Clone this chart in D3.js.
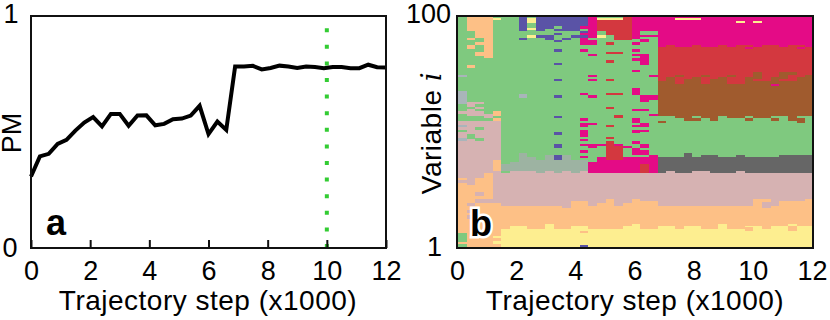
<!DOCTYPE html>
<html>
<head>
<meta charset="utf-8">
<script src="https://cdn.jsdelivr.net/npm/d3@7"></script>
<style>
  html, body { margin: 0; padding: 0; background: #fff; }
  text { font-family: "Liberation Sans", Arial, sans-serif; fill: #000; }
  .title { font-size: 28px; letter-spacing: 0.5px; }
  .num { font-size: 27px; }
</style>
</head>
<body>
<div id="chart"></div>
<script>
// panel a
var pmSteps = [0, 300, 600, 900, 1200, 1500, 1800, 2100, 2400, 2700, 3000, 3300, 3600, 3900, 4200, 4500, 4800, 5100, 5400, 5700, 6000, 6300, 6600, 6900, 7200, 7500, 7800, 8100, 8400, 8700, 9000, 9300, 9600, 9900, 10200, 10500, 10800, 11100, 11400, 11700, 12000];
var pmValues = [.308, .395, .406, .449, .466, .506, .541, .564, .524, .578, .578, .527, .571, .572, .529, .535, .555, .558, .571, .613, .491, .545, .509, .782, .782, .785, .770, .776, .786, .782, .776, .782, .780, .775, .780, .780, .775, .775, .790, .779, .778];
var markerStep = 10000;
var markerTop = 0.95;
var xTicks = [0, 2000, 4000, 6000, 8000, 10000, 12000];

// panel b, per trajectory column: the row where each stacked state ends (0 = state absent)
var columns = pmSteps;
var yellowTop = [0, 0, 0, 0, 0, 8, 9, 9, 8, 8, 10, 8, 8, 9, 9, 8, 8, 9, 8, 9, 10, 8, 8, 9, 9, 8, 9, 9, 8, 8, 10, 8, 8, 9, 9, 8, 9, 9, 10, 9, 9];
var orangeTop = [28, 27, 30, 32, 19, 18, 18, 18, 18, 18, 18, 18, 17, 20, 20, 18, 19, 21, 18, 19, 21, 20, 20, 18, 18, 18, 18, 18, 18, 18, 18, 18, 18, 18, 21, 21, 18, 20, 20, 20, 21];
var pinkTop = [55, 55, 55, 55, 55, 32, 33, 33, 33, 32, 33, 32, 33, 32, 33, 32, 32, 32, 32, 32, 32, 32, 32, 32, 33, 32, 32, 33, 33, 32, 32, 32, 33, 32, 32, 32, 32, 32, 32, 32, 32];
var sageTop = [0, 0, 0, 0, 0, 36, 37, 41, 39, 38, 40, 38, 40, 38, 38, 0, 0, 0, 0, 0, 0, 0, 0, 0, 0, 0, 0, 0, 0, 0, 0, 0, 0, 0, 0, 0, 0, 0, 0, 0, 0];
var hotLowTop = [0, 0, 0, 0, 0, 0, 0, 0, 0, 0, 0, 0, 0, 0, 0, 37, 39, 38, 38, 38, 39, 39, 40, 0, 0, 0, 0, 0, 0, 0, 0, 0, 0, 0, 0, 0, 0, 0, 0, 0, 0];
var darkTop = [0, 0, 0, 0, 0, 0, 0, 0, 0, 0, 0, 0, 0, 0, 0, 0, 0, 0, 0, 0, 0, 0, 0, 39, 39, 39, 41, 39, 40, 40, 39, 39, 40, 39, 39, 39, 39, 40, 40, 40, 40];
var greenTop = [100, 100, 100, 100, 100, 100, 100, 100, 100, 100, 100, 100, 100, 100, 100, 100, 100, 100, 100, 100, 100, 100, 100, 57, 57, 56, 55, 55, 56, 55, 57, 56, 56, 55, 56, 56, 55, 57, 55, 54, 57];
var brownTop = [0, 0, 0, 0, 0, 0, 0, 0, 0, 0, 0, 0, 0, 0, 0, 0, 0, 0, 0, 0, 0, 0, 0, 72, 74, 71, 73, 74, 71, 73, 74, 71, 71, 74, 76, 72, 74, 76, 72, 74, 75];
var redTop = [0, 0, 0, 0, 0, 0, 0, 0, 0, 0, 0, 0, 0, 0, 0, 0, 0, 0, 0, 0, 0, 0, 0, 87, 88, 87, 87, 88, 87, 87, 88, 87, 88, 88, 87, 88, 88, 87, 88, 88, 87];
var hotTop = [0, 0, 0, 0, 0, 0, 0, 0, 0, 0, 0, 0, 0, 0, 0, 0, 0, 0, 0, 0, 0, 0, 0, 100, 100, 100, 100, 100, 100, 100, 100, 100, 100, 100, 100, 100, 100, 100, 100, 100, 100];

// isolated runs: [column, from row, to row]
var orangeRuns = [[1, 94, 100], [1, 90, 91], [1, 86, 88], [1, 78, 79], [2, 91, 100], [2, 88, 89], [2, 83, 85], [3, 82, 100], [4, 57, 59], [4, 55, 56], [4, 33, 38], [0, 29, 30], [14, 6, 7], [17, 8, 9], [33, 7, 8.5], [38, 7, 9]];
var pinkRuns = [[35, 17, 19.5], [1, 61, 63], [1, 57, 60], [2, 62, 63], [2, 60, 61], [2, 57, 59], [3, 56, 58], [0, 58, 59], [2, 22, 24], [2, 19, 21], [3, 19, 21], [1, 18, 19], [1, 15, 16], [1, 12, 14]];
var yellowRuns = [[4, 98.5, 99.7], [4, 4, 5], [4, 1.5, 2.5], [8, 97.5, 99.7], [8, 94.5, 95.4], [8, 91, 92], [16, 98.5, 99.7], [16, 91, 92], [17, 98.5, 99.7], [18, 98.5, 99.7], [20, 98.5, 99.7], [20, 94, 95], [20, 90.5, 91.5], [25, 98.5, 99.7], [26, 98.5, 99.7], [27, 98.5, 99.7], [32, 97.5, 98.3], [34, 97.5, 98.3]];
var purpleRuns = [[7, 94, 100], [7, 90, 91], [9, 94, 100], [9, 91, 92], [10, 95, 100], [10, 90, 92], [11, 96, 100], [11, 94, 95], [11, 92, 93], [11, 89, 90], [11, 85, 86], [11, 79, 80], [11, 72, 73], [11, 65, 66.3], [11, 56, 57], [11, 48.5, 49.8], [11, 43, 45], [11, 38, 40], [12, 94, 100], [12, 90, 91], [13, 94, 100], [13, 91, 92], [14, 96, 100], [14, 93, 94], [14, 91, 92], [14, 0, 1]];
var hotRuns = [[14, 95, 96], [14, 92, 93], [14, 88, 91], [14, 85, 86], [14, 66, 67], [14, 55, 56], [14, 52, 54], [14, 48, 51], [14, 46, 47], [14, 44, 45], [14, 41, 42], [14, 38.5, 39.6],
  [15, 91, 100], [15, 88, 90], [15, 83, 84], [15, 74, 75], [15, 72, 73], [15, 65, 66], [15, 53, 54], [15, 43, 45], [16, 44, 45], [17, 45, 46], [18, 44, 45], [19, 43, 44], [19, 38, 39],
  [20, 90.5, 100], [20, 88, 89], [20, 85, 86], [20, 83, 84], [20, 81, 82], [20, 76, 77], [20, 66, 69], [20, 59, 60], [20, 54, 56], [20, 52, 53], [20, 49.5, 51], [20, 45, 46], [20, 40, 43],
  [21, 94, 100], [21, 91.5, 92.2], [21, 89, 90.4], [21, 80, 84], [21, 79, 80], [21, 63, 66], [21, 59, 60], [21, 52, 54], [21, 50, 51], [21, 43, 45], [21, 40, 42],
  [22, 94, 100], [22, 91.5, 92.2], [22, 74, 75], [22, 64, 66], [22, 57, 58], [33, 86, 87], [39, 86, 87], [36, 70, 71]];
var redRuns = [[16, 94, 98.5], [17, 92, 98.5], [18, 90, 98.5], [19, 90, 100], [17, 88, 89], [17, 84, 85], [18, 84, 85], [17, 80, 81.5], [17, 72, 73], [17, 66, 67], [18, 66, 67], [17, 60, 61], [18, 56, 57.5], [17, 52, 53], [17, 47, 48], [17, 38, 46], [18, 38, 44], [21, 32, 36], [34, 72, 73], [37, 72, 73]];
var brownRuns = [[25, 74, 75], [28, 74, 75], [31, 74, 75], [38, 75, 76], [23, 54, 55]];
var greenRuns = [[27, 56, 57], [33, 56, 57], [36, 56, 57], [39, 56, 57], [0, 2, 6], [0, 0, 1.5], [0, 50, 51], [1, 47, 49], [2, 46, 47.5], [2, 51, 52], [5, 32, 33]];
var slateRuns = [[0, 74, 75], [0, 62, 68], [7, 65, 66.5], [0, 52, 53], [0, 46, 47.5]];

var colors = {
    yellow: "#fdee90", orange: "#fdc086", pink: "#d6b2b2", sage: "#9db3a2", hot: "#e40b86", dark: "#666666",
    green: "#7fc97f", brown: "#a05b2e", red: "#d3383f", purple: "#5a53a6", slate: "#a9b5ba"
};

var stack = [
    ["yellow", yellowTop], ["orange", orangeTop], ["pink", pinkTop], ["sage", sageTop], ["hot", hotLowTop],
    ["dark", darkTop], ["green", greenTop], ["brown", brownTop], ["red", redTop], ["hot", hotTop]
];
var runs = [
    ["orange", orangeRuns], ["pink", pinkRuns], ["green", greenRuns], ["slate", slateRuns], ["yellow", yellowRuns],
    ["purple", purpleRuns], ["hot", hotRuns], ["red", redRuns], ["brown", brownRuns]
];

var cells = [];
columns.forEach(function (step, c) {
    var prev = 0;
    stack.forEach(function (layer) {
        var end = layer[1][c];
        if (end > prev) {
            cells.push({ col: step, from: prev, to: end, state: layer[0] });
            prev = end;
        }
    });
});
runs.forEach(function (group) {
    group[1].forEach(function (r) {
        cells.push({ col: columns[r[0]], from: r[1], to: r[2], state: group[0] });
    });
});

var svg = d3.select("#chart").append("svg")
    .attr("width", 830)
    .attr("height", 320)
    .style("display", "block");

var plotTop = 16, plotBottom = 248;

// ---- panel a ----
var xA = d3.scaleLinear().domain([0, 12000]).range([31, 386]);
var yA = d3.scaleLinear().domain([0, 1]).range([plotBottom, plotTop]);

var a = svg.append("g");

a.append("line")
    .attr("x1", xA(markerStep)).attr("x2", xA(markerStep))
    .attr("y1", yA(0)).attr("y2", yA(markerTop))
    .attr("stroke", "#33cc33")
    .attr("stroke-width", 4)
    .attr("stroke-dasharray", "4,12.6");

a.append("path")
    .datum(pmValues)
    .attr("fill", "none")
    .attr("stroke", "#000")
    .attr("stroke-width", 4)
    .attr("d", d3.line().x(function (d, i) { return xA(pmSteps[i]); }).y(function (d) { return yA(d); }));

a.append("rect")
    .attr("x", 31).attr("y", plotTop).attr("width", 355).attr("height", plotBottom - plotTop)
    .attr("fill", "none").attr("stroke", "#111").attr("stroke-width", 2);

var axisA = a.append("g")
    .attr("transform", "translate(0," + plotBottom + ")")
    .call(d3.axisBottom(xA).tickValues(xTicks).tickSize(-8).tickPadding(13).tickFormat(function (d) { return d / 1000; }));
axisA.select(".domain").remove();
axisA.selectAll("line").attr("stroke", "#111").attr("stroke-width", 2);
axisA.selectAll("text").attr("class", "num");
axisA.attr("font-family", null).attr("font-size", null);

a.append("text").attr("class", "num").attr("x", 11).attr("y", 23).attr("text-anchor", "middle").text("1");
a.append("text").attr("class", "num").attr("x", 10).attr("y", 257).attr("text-anchor", "middle").text("0");
a.append("text").attr("class", "num").attr("transform", "translate(21,133) rotate(-90)").attr("text-anchor", "middle").text("PM");
a.append("text").attr("class", "title").attr("x", 208).attr("y", 310).attr("text-anchor", "middle").text("Trajectory step (x1000)");
a.append("text").attr("x", 46).attr("y", 235).style("font-size", "36px").style("font-weight", "bold").text("a");

// ---- panel b ----
var xB = d3.scaleBand().domain(columns).range([458, 814]);
var xBAxis = d3.scaleLinear().domain([0, 12000]).range([457, 812]);
var yB = d3.scaleLinear().domain([0, 100]).range([247, 17]);

var b = svg.append("g");

b.append("g")
    .attr("shape-rendering", "crispEdges")
    .selectAll("rect")
    .data(cells)
    .enter()
    .append("rect")
    .attr("x", function (d) { return xB(d.col); })
    .attr("width", xB.bandwidth())
    .attr("y", function (d) { return yB(d.to); })
    .attr("height", function (d) { return yB(d.from) - yB(d.to); })
    .attr("fill", function (d) { return colors[d.state]; });

b.append("rect")
    .attr("x", 457).attr("y", plotTop).attr("width", 356).attr("height", plotBottom - plotTop)
    .attr("fill", "none").attr("stroke", "#111").attr("stroke-width", 2);

var axisB = b.append("g")
    .attr("transform", "translate(0," + plotBottom + ")")
    .call(d3.axisBottom(xBAxis).tickValues(xTicks).tickSize(0).tickPadding(13).tickFormat(function (d) { return d / 1000; }));
axisB.select(".domain").remove();
axisB.selectAll("text").attr("class", "num");
axisB.attr("font-family", null).attr("font-size", null);

b.append("text").attr("class", "num").attr("x", 451).attr("y", 23).attr("text-anchor", "end").text("100");
b.append("text").attr("class", "num").attr("x", 442).attr("y", 256).attr("text-anchor", "end").text("1");
var varLabel = b.append("text").attr("class", "title").attr("transform", "translate(441,133) rotate(-90)").attr("text-anchor", "middle");
varLabel.append("tspan").text("Variable ");
varLabel.append("tspan").style("font-style", "italic").style("font-family", "'DejaVu Serif', serif").text("i");
b.append("text").attr("class", "title").attr("x", 635).attr("y", 310).attr("text-anchor", "middle").text("Trajectory step (x1000)");
b.append("text").attr("x", 470).attr("y", 236).style("font-size", "36px").style("font-weight", "bold")
    .style("stroke", "#fff").style("stroke-width", 5).style("paint-order", "stroke").text("b");
</script>
</body>
</html>
